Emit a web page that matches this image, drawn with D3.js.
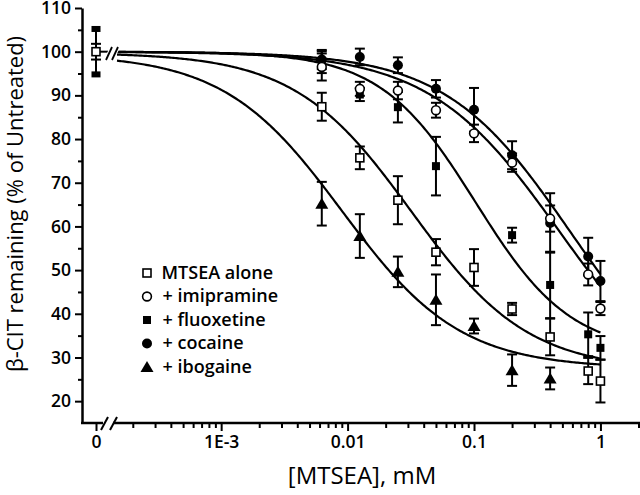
<!DOCTYPE html>
<html>
<head>
<meta charset="utf-8">
<script src="https://cdn.jsdelivr.net/npm/d3@7"></script>
<style>
  body { margin: 0; background: #fff; }
  svg { display: block; font-family: "Open Sans", sans-serif; }
</style>
</head>
<body>
<div id="chart"></div>
<script>
// concentrations (mM) used for every series
var concs = [0.00625, 0.0125, 0.025, 0.05, 0.1, 0.2, 0.4, 0.8, 1];

// % of untreated (null = no point)
var mtseaAlone    = [87.4, 75.7, 66.0, 54.1, 50.6, 41.1, 34.7, 26.9, 24.6];
var mtseaErr      = [3.2, 2.6, 5.5, 3.0, 4.2, 1.4, 4.2, 3.0, 4.9];
var imipramine    = [96.5, 91.5, 91.1, 86.6, 81.3, 74.6, 61.8, 49.0, 41.2];
var imipramineErr = [3.1, 1.6, 2.0, 1.7, 2.0, 2.1, 3.0, 2.5, 1.5];
var fluoxetine    = [97.6, 90.2, 87.3, 73.8, null, 58.0, 46.6, 35.3, 32.2];
var fluoxetineErr = [2.5, 1.5, 3.5, 6.7, null, 1.7, 7.6, 5.0, 2.7];
var cocaine       = [98.2, 98.8, 96.9, 91.5, 86.7, 76.3, 60.8, 53.1, 47.5];
var cocaineErr    = [2.2, 1.9, 1.8, 2.0, 5.0, 3.2, 6.8, 4.3, 4.6];
var ibogaine      = [65.2, 57.8, 49.6, 43.2, 37.2, 27.1, 25.2, null, null];
var ibogaineErr   = [5.0, 5.0, 3.5, 5.8, 1.7, 3.6, 2.5, null, null];

// untreated control (plotted at "0")
var zeroValue = 100;
var zeroErrMtsea = 1.8;
var zeroErrFluox = 5.2;

// sigmoid fit parameters, one per series
var seriesNames = ["MTSEA alone", "+ imipramine", "+ fluoxetine", "+ cocaine", "+ ibogaine"];
var seriesShapes = ["openSquare", "openCircle", "filledSquare", "filledCircle", "filledTriangle"];
var fitTop    = [99.8, 100, 100, 100, 99.5];
var fitBottom = [27, 18, 31, 18, 27.5];
var fitIC50   = [0.032, 0.47, 0.103, 0.57, 0.00905];
var fitHill   = [0.94, 0.85, 1.15, 0.88, 0.93];

// tick labels
var yTicks = [20, 30, 40, 50, 60, 70, 80, 90, 100, 110];
var yMinorTicks = [25, 35, 45, 55, 65, 75, 85, 95, 105];
var xTicks = [0.001, 0.01, 0.1, 1];
var xTickLabels = ["1E-3", "0.01", "0.1", "1"];

var width = 640, height = 495;

var svg = d3.select("#chart").append("svg")
    .attr("width", width)
    .attr("height", height);

var x = d3.scaleLog().domain([1.5e-4, 2]).range([117, 638.5]);
var xZero = d3.scaleOrdinal().domain([0]).range([96]);
var y = d3.scaleLinear().domain([15, 110]).range([423, 8]);
var axisX = 82, axisY = 423;

var tickFont = 17.5;

// ---- y axis
var yAxis = svg.append("g")
    .attr("transform", "translate(" + axisX + ",0)")
    .call(d3.axisLeft(y).tickValues(yTicks).tickSize(7).tickSizeOuter(0).tickPadding(4));
yAxis.select(".domain").attr("stroke-width", 2.5);
yAxis.selectAll(".tick line").attr("stroke-width", 2);
yAxis.selectAll("text").style("font-size", tickFont + "px").style("font-weight", 600)
    .style("font-family", "Open Sans");

var yMinor = svg.append("g")
    .attr("transform", "translate(" + axisX + ",0)")
    .call(d3.axisLeft(y).tickValues(yMinorTicks).tickSize(4).tickFormat(""));
yMinor.select(".domain").remove();
yMinor.selectAll(".tick line").attr("stroke-width", 2);

// ---- x axis (log part + zero, with a break)
var xMinorTicks = [];
[1e-4, 1e-3, 1e-2, 1e-1, 1].forEach(function(dec) {
    d3.range(2, 10).forEach(function(m) {
        var v = m * dec;
        if (v >= 1.5e-4 && v <= 2.0001) xMinorTicks.push(v);
    });
});

var xAxis = svg.append("g")
    .attr("transform", "translate(0," + axisY + ")")
    .call(d3.axisBottom(x).tickValues(xTicks).tickSize(8).tickPadding(5)
        .tickFormat(function(d, i) { return xTickLabels[i]; }));
xAxis.select(".domain").remove();

var xMinor = svg.append("g")
    .attr("transform", "translate(0," + axisY + ")")
    .call(d3.axisBottom(x).tickValues(xMinorTicks).tickSize(5).tickFormat(""));
xMinor.select(".domain").remove();

var xZeroAxis = svg.append("g")
    .attr("transform", "translate(0," + axisY + ")")
    .call(d3.axisBottom(xZero).tickSize(8).tickPadding(5));
xZeroAxis.select(".domain").remove();

svg.selectAll(".tick line").attr("stroke-width", 2);
[xAxis, xZeroAxis].forEach(function(a) {
    a.selectAll("text").style("font-size", tickFont + "px").style("font-weight", 600)
        .style("font-family", "Open Sans");
});

// axis line with break
svg.append("line").attr("x1", axisX - 1).attr("x2", 103).attr("y1", axisY).attr("y2", axisY)
    .attr("stroke", "#000").attr("stroke-width", 2.5);
svg.append("line").attr("x1", 113).attr("x2", 640).attr("y1", axisY).attr("y2", axisY)
    .attr("stroke", "#000").attr("stroke-width", 2.5);
[101, 110].forEach(function(bx) {
    svg.append("line").attr("x1", bx).attr("y1", axisY + 7).attr("x2", bx + 7).attr("y2", axisY - 6)
        .attr("stroke", "#000").attr("stroke-width", 2);
});

// ---- fitted curves
var curveLine = d3.line()
    .x(function(d) { return x(d[0]); })
    .y(function(d) { return y(d[1]); });

var lo = Math.log10(1.5e-4), hi = Math.log10(1);
seriesNames.forEach(function(name, s) {
    var pts = d3.range(0, 301).map(function(i) {
        var c = Math.pow(10, lo + i * (hi - lo) / 300);
        var v = fitBottom[s] + (fitTop[s] - fitBottom[s]) / (1 + Math.pow(c / fitIC50[s], fitHill[s]));
        return [c, v];
    });
    svg.append("path")
        .datum(pts)
        .attr("fill", "none")
        .attr("stroke", "#000")
        .attr("stroke-width", 2.2)
        .attr("d", curveLine);
});

// break marks on the curves
svg.append("line").attr("x1", 99).attr("x2", 108).attr("y1", y(100)).attr("y2", y(100))
    .attr("stroke", "#000").attr("stroke-width", 2);
[106, 112].forEach(function(bx) {
    svg.append("line").attr("x1", bx).attr("y1", 60).attr("x2", bx + 6).attr("y2", 47)
        .attr("stroke", "#fff").attr("stroke-width", 4);
    svg.append("line").attr("x1", bx).attr("y1", 60).attr("x2", bx + 6).attr("y2", 47)
        .attr("stroke", "#000").attr("stroke-width", 1.8);
});

// ---- markers
function drawMarker(g, shape, cx, cy) {
    if (shape == "openSquare") {
        g.append("rect").attr("x", cx - 4).attr("y", cy - 4).attr("width", 8).attr("height", 8)
            .attr("fill", "#fff").attr("stroke", "#000").attr("stroke-width", 1.6);
    } else if (shape == "filledSquare") {
        g.append("rect").attr("x", cx - 4).attr("y", cy - 4).attr("width", 8).attr("height", 8)
            .attr("fill", "#000");
    } else if (shape == "openCircle") {
        g.append("circle").attr("cx", cx).attr("cy", cy).attr("r", 4.4)
            .attr("fill", "#fff").attr("stroke", "#000").attr("stroke-width", 1.6);
    } else if (shape == "filledCircle") {
        g.append("circle").attr("cx", cx).attr("cy", cy).attr("r", 5).attr("fill", "#000");
    } else if (shape == "filledTriangle") {
        g.append("path")
            .attr("d", "M" + cx + "," + (cy - 6) + "L" + (cx + 6.5) + "," + (cy + 5) + "L" + (cx - 6.5) + "," + (cy + 5) + "Z")
            .attr("fill", "#000");
    }
}

function errorBar(g, cx, v, e) {
    var y0 = y(v - e), y1 = y(v + e);
    g.append("line").attr("x1", cx).attr("x2", cx).attr("y1", y0).attr("y2", y1)
        .attr("stroke", "#000").attr("stroke-width", 2);
    [y0, y1].forEach(function(yy) {
        g.append("line").attr("x1", cx - 5).attr("x2", cx + 5).attr("y1", yy).attr("y2", yy)
            .attr("stroke", "#000").attr("stroke-width", 2);
    });
}

var seriesValues = [mtseaAlone, imipramine, fluoxetine, cocaine, ibogaine];
var seriesErrors = [mtseaErr, imipramineErr, fluoxetineErr, cocaineErr, ibogaineErr];

var errG = svg.append("g");
var markG = svg.append("g");

seriesValues.forEach(function(vals, s) {
    vals.forEach(function(v, i) {
        if (v == null) return;
        errorBar(errG, x(concs[i]), v, seriesErrors[s][i]);
    });
});
// draw filled markers first, open ones on top
[2, 3, 4, 1, 0].forEach(function(s) {
    seriesValues[s].forEach(function(v, i) {
        if (v == null) return;
        drawMarker(markG, seriesShapes[s], x(concs[i]), y(v));
    });
});

// untreated point at 0
var zx = xZero(0);
errG.append("line").attr("x1", zx).attr("x2", zx)
    .attr("y1", y(zeroValue - zeroErrFluox)).attr("y2", y(zeroValue + zeroErrFluox))
    .attr("stroke", "#000").attr("stroke-width", 2);
[zeroValue - zeroErrFluox, zeroValue + zeroErrFluox].forEach(function(v) {
    errG.append("rect").attr("x", zx - 4.5).attr("y", y(v) - 3).attr("width", 9).attr("height", 6)
        .attr("fill", "#000");
});
errorBar(errG, zx, zeroValue, zeroErrMtsea);
drawMarker(markG, "openSquare", zx, y(zeroValue));

// ---- legend
var legendY = [273, 296.5, 320, 343.5, 367];
var legend = svg.append("g");
seriesNames.forEach(function(name, s) {
    drawMarker(legend, seriesShapes[s], 147, legendY[s]);
    legend.append("text")
        .attr("x", s == 0 ? 161.5 : 162.5)
        .attr("y", legendY[s] + 5.5)
        .style("font-size", "18px")
        .style("font-weight", 600)
        .text(name);
});

// ---- axis titles
svg.append("text")
    .attr("x", 362)
    .attr("y", 484)
    .style("text-anchor", "middle")
    .style("font-size", "24px")
    .style("font-weight", 500)
    .text("[MTSEA], mM");

svg.append("text")
    .attr("transform", "translate(23,204) rotate(-90)")
    .style("text-anchor", "middle")
    .style("font-size", "22px")
    .style("font-weight", 500)
    .text("β-CIT remaining (% of Untreated)");
</script>
</body>
</html>
